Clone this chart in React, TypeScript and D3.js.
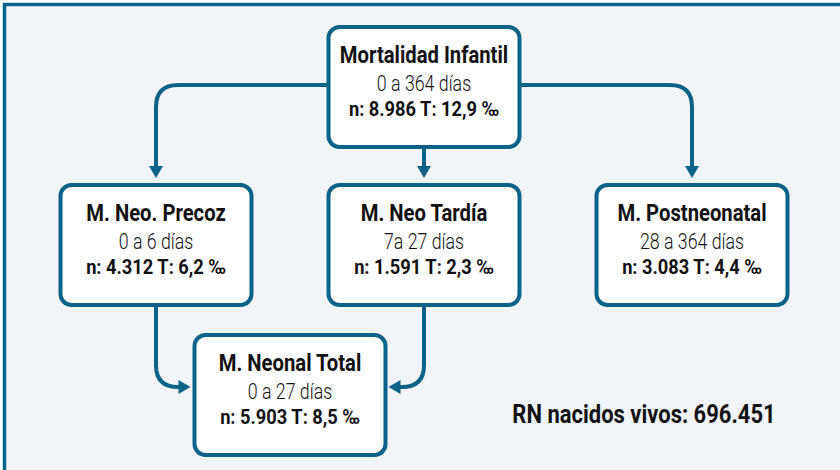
import React from 'react';
import * as d3 from 'd3';

// Node contents
const titles = ['Mortalidad Infantil', 'M. Neo. Precoz', 'M. Neo Tardía', 'M. Postneonatal', 'M. Neonal Total'];
const ranges = ['0 a 364 días', '0 a 6 días', '7a 27 días', '28 a 364 días', '0 a 27 días'];
const counts = [8986, 4312, 1591, 3083, 5903];
const rates = [12.9, 6.2, 2.3, 4.4, 8.5];
// layout slot of each node: column (0..2, fractional allowed) and row (0..2)
const cols = [1, 0, 1, 2, 0.5];
const rows = [0, 1, 1, 1, 2];
// edges: [from, to, kind]
const edges: [number, number, string][] = [
  [0, 1, 'side'],
  [0, 2, 'down'],
  [0, 3, 'side'],
  [1, 4, 'into'],
  [2, 4, 'into'],
];
const liveBirths = 696451;

const W = 840;
const H = 470;
const BOX_W = 191;
const BOX_H = 120;
const BLUE = '#0b6389';
const BG = '#f1f5f9';
const FONT = "Roboto, 'Noto Sans', sans-serif";

const fmtInt = (v: number) => d3.format(',')(v).replace(/,/g, '.');
const fmtRate = (v: number) => d3.format('.1f')(v).replace('.', ',');

export default function App() {
  const x = d3.scaleLinear().domain([0, 2]).range([156, 692]);
  const y = d3.scaleOrdinal<number, number>().domain([0, 1, 2]).range([27, 185, 335]);

  const boxes = titles.map((t, i) => {
    const cx = x(cols[i]);
    const top = y(rows[i]);
    return { i, cx, top, left: cx - BOX_W / 2, right: cx + BOX_W / 2, bottom: top + BOX_H, midY: top + BOX_H / 2 };
  });

  const r = 22;
  const ah = 12; // arrow length
  const aw = 7; // arrow half width
  const paths: string[] = [];
  const heads: string[] = [];

  edges.forEach(([a, b, kind]) => {
    const s = boxes[a];
    const t = boxes[b];
    if (kind === 'down') {
      const tipY = t.top - 7;
      const p = d3.path();
      p.moveTo(s.cx, s.bottom);
      p.lineTo(s.cx, tipY - ah + 1);
      paths.push(p.toString());
      heads.push(`M${t.cx - aw},${tipY - ah}L${t.cx + aw},${tipY - ah}L${t.cx},${tipY}Z`);
    } else if (kind === 'side') {
      const dir = t.cx < s.cx ? -1 : 1;
      const sx = dir < 0 ? s.left : s.right;
      const yy = s.top + 58;
      const tipY = t.top - 7;
      const p = d3.path();
      p.moveTo(sx, yy);
      p.lineTo(t.cx - dir * r, yy);
      p.quadraticCurveTo(t.cx, yy, t.cx, yy + r);
      p.lineTo(t.cx, tipY - ah + 1);
      paths.push(p.toString());
      heads.push(`M${t.cx - aw},${tipY - ah}L${t.cx + aw},${tipY - ah}L${t.cx},${tipY}Z`);
    } else {
      const dir = s.cx < t.cx ? 1 : -1;
      const yy = t.top + 52;
      const tipX = dir > 0 ? t.left - 4 : t.right + 3;
      const p = d3.path();
      p.moveTo(s.cx, s.bottom);
      p.lineTo(s.cx, yy - r);
      p.quadraticCurveTo(s.cx, yy, s.cx + dir * r, yy);
      p.lineTo(tipX - dir * (ah - 1), yy);
      paths.push(p.toString());
      heads.push(`M${tipX - dir * ah},${yy - aw}L${tipX - dir * ah},${yy + aw}L${tipX},${yy}Z`);
    }
  });

  const label = (cx: number, yy: number, size: number, weight: number, sx: number, txt: string, key: string) => (
    <text key={key} transform={`translate(${cx},${yy}) scale(${sx},1)`} fontSize={size} fontWeight={weight} textAnchor="middle">
      {txt}
    </text>
  );

  return (
    <svg width={W} height={H} style={{ position: 'absolute', left: 0, top: 0 }}>
      <rect x={0} y={0} width={W} height={H} fill="#ffffff" />
      <rect x={4.5} y={4.5} width={W + 20} height={H + 20} fill={BG} stroke={BLUE} strokeWidth={3.5} />
      {paths.map((d, k) => (
        <path key={k} d={d} fill="none" stroke={BLUE} strokeWidth={4} />
      ))}
      {heads.map((d, k) => (
        <path key={'h' + k} d={d} fill={BLUE} />
      ))}
      {boxes.map((b) => (
        <g key={b.i} fontFamily={FONT} fill="#111">
          <rect x={b.left} y={b.top} width={BOX_W} height={BOX_H} rx={11} fill="#fff" stroke={BLUE} strokeWidth={4} />
          {label(b.cx, b.top + 36, 23, 700, 0.88, titles[b.i], 't')}
          {label(b.cx, b.top + 64, 22.5, 300, 0.79, ranges[b.i], 'r')}
          {label(b.cx, b.top + 89, 21, 700, 0.87, `n: ${fmtInt(counts[b.i])} T: ${fmtRate(rates[b.i])} ‰`, 'n')}
        </g>
      ))}
      <g fontFamily={FONT} fill="#111">
        {label(644, 423, 25, 700, 0.88, `RN nacidos vivos: ${fmtInt(liveBirths)}`, 'rn')}
      </g>
    </svg>
  );
}
